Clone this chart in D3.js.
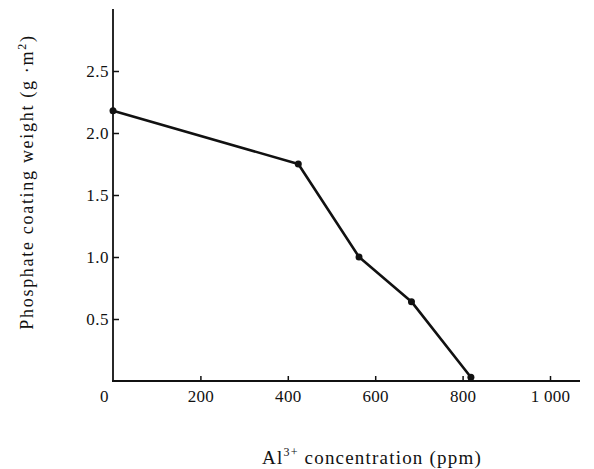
<!DOCTYPE html>
<html><head><meta charset="utf-8">
<script src="https://cdn.jsdelivr.net/npm/d3@7"></script>
<style>body{margin:0;background:#fff;} text{font-family:"Liberation Serif","Times New Roman",serif;fill:#111;}</style>
</head><body>
<svg id="c" width="594" height="469"></svg>
<script>
const concentration = [0, 424, 563, 683, 819];
const coatingWeight = [2.18, 1.75, 1.0, 0.64, 0.03];
const xTicks = [0, 200, 400, 600, 800, 1000];
const xTickLabels = ["0", "200", "400", "600", "800", "1 000"];
const yTicks = [0.5, 1.0, 1.5, 2.0, 2.5];
const yTickLabels = ["0.5", "1.0", "1.5", "2.0", "2.5"];

const svg = d3.select("#c");
const x = d3.scaleLinear().domain([0, 1000]).range([113, 550]);
const y = d3.scaleLinear().domain([0, 3]).range([381, 9]);

// axes lines
svg.append("line").attr("x1", 113).attr("x2", 113).attr("y1", 9).attr("y2", 382)
  .attr("stroke", "#111").attr("stroke-width", 1.8);
svg.append("line").attr("x1", 112).attr("x2", 580).attr("y1", 381).attr("y2", 381)
  .attr("stroke", "#111").attr("stroke-width", 1.8);

// y ticks
const yAxis = d3.axisLeft(y).tickValues(yTicks).tickSize(-6).tickPadding(6)
  .tickFormat((d, i) => yTickLabels[i]);
const gy = svg.append("g").attr("transform", "translate(113,0)").call(yAxis);
gy.select(".domain").remove();
gy.selectAll("line").attr("stroke", "#111").attr("stroke-width", 1.5);
gy.selectAll("text").attr("font-size", 17).attr("x", -4).attr("letter-spacing", 0.5)
  .style("font-family", "'Liberation Serif',serif").attr("fill", "#111");

// x ticks
const xAxis = d3.axisBottom(x).tickValues(xTicks).tickSize(-5).tickPadding(8)
  .tickFormat((d, i) => xTickLabels[i]);
const gx = svg.append("g").attr("transform", "translate(0,381)").call(xAxis);
gx.select(".domain").remove();
gx.selectAll("line").attr("stroke", "#111").attr("stroke-width", 1.5)
  .filter(d => d === 0).remove();
gx.selectAll("text").attr("font-size", 17).attr("y", 9).attr("letter-spacing", 0.3)
  .style("font-family", "'Liberation Serif',serif").attr("fill", "#111")
  .attr("dx", d => d === 0 ? -9 : 0);

// line
const pts = concentration.map((c, i) => [c, coatingWeight[i]]);
svg.append("path").datum(pts)
  .attr("d", d3.line().x(d => x(d[0])).y(d => y(d[1])))
  .attr("fill", "none").attr("stroke", "#111").attr("stroke-width", 2.6)
  .attr("stroke-linejoin", "round");
svg.selectAll("circle.pt").data(pts).enter().append("circle")
  .attr("cx", d => x(d[0])).attr("cy", d => y(d[1])).attr("r", 3.5).attr("fill", "#111");

// titles
const xt = svg.append("text").attr("x", 372).attr("y", 464).attr("text-anchor", "middle")
  .attr("font-size", 19).attr("letter-spacing", 1.2);
xt.append("tspan").text("Al");
xt.append("tspan").attr("dy", -8).attr("font-size", 12).text("3+");
xt.append("tspan").attr("dy", 8).text(" concentration  (ppm)");

const yt = svg.append("text").attr("transform", "translate(33,182) rotate(-90)")
  .attr("text-anchor", "middle").attr("font-size", 18).attr("letter-spacing", 1.7);
yt.append("tspan").text("Phosphate coating  weight (g \u00b7m");
yt.append("tspan").attr("dy", -7).attr("font-size", 12).text("2");
yt.append("tspan").attr("dy", 7).text(")");
</script>
</body></html>
